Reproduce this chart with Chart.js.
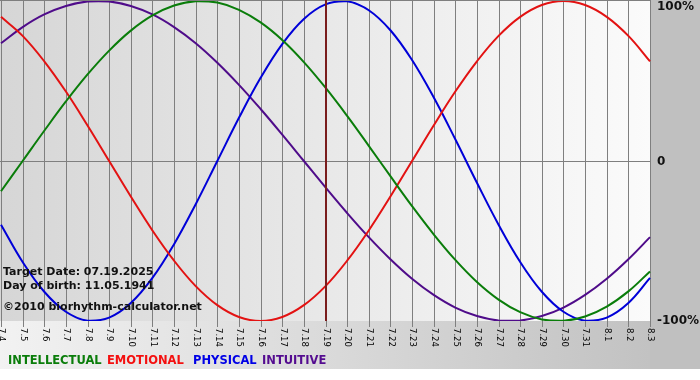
<!DOCTYPE html>
<html><head><meta charset="utf-8">
<script src="https://cdn.jsdelivr.net/npm/chart.js@4"></script>
<style>html,body{margin:0;padding:0;background:#fff}canvas{display:block}</style>
</head><body>
<canvas id="c" width="700" height="380"></canvas>
<script>
const dates = ['7.4','7.5','7.6','7.7','7.8','7.9','7.10','7.11','7.12','7.13','7.14','7.15','7.16','7.17','7.18','7.19','7.20','7.21','7.22','7.23','7.24','7.25','7.26','7.27','7.28','7.29','7.30','7.31','8.1','8.2','8.3'];
const intellectual = [-0.189,0,0.189,0.372,0.541,0.690,0.815,0.910,0.972,0.999,0.990,0.945,0.866,0.756,0.618,0.458,0.282,0.095,-0.095,-0.282,-0.458,-0.618,-0.756,-0.866,-0.945,-0.990,-0.999,-0.972,-0.910,-0.815,-0.690];
const emotional = [0.901,0.782,0.623,0.434,0.222,0,-0.222,-0.434,-0.623,-0.782,-0.901,-0.975,-1,-0.975,-0.901,-0.782,-0.623,-0.434,-0.222,0,0.222,0.434,0.623,0.782,0.901,0.975,1,0.975,0.901,0.782,0.623];
const physical = [-0.398,-0.631,-0.817,-0.942,-0.998,-0.979,-0.888,-0.731,-0.520,-0.270,0,0.270,0.520,0.731,0.888,0.979,0.998,0.942,0.817,0.631,0.398,0.136,-0.136,-0.398,-0.631,-0.817,-0.942,-0.998,-0.979,-0.888,-0.731];
const intuitive = [0.736,0.837,0.916,0.969,0.997,0.997,0.969,0.916,0.837,0.736,0.614,0.476,0.325,0.165,0,-0.165,-0.325,-0.476,-0.614,-0.736,-0.837,-0.916,-0.969,-0.997,-0.997,-0.969,-0.916,-0.837,-0.736,-0.614,-0.476];
const yTickLabels = [{v:1,t:'100%'},{v:0,t:'0'},{v:-1,t:'-100%'}];
const targetDate = '7.19';
const infoLines = ['Target Date: 07.19.2025','Day of birth: 11.05.1941','\u00a92010 biorhythm-calculator.net'];
const seriesNames = ['INTELLECTUAL','EMOTIONAL','PHYSICAL','INTUITIVE'];
const seriesColors = ['#0a7d0a','#e31212','#0000d8','#4f0c8a'];
const legendColors = ['#0a7d0a','#f41010','#0000e6','#540c90'];

const H = 380, W = 700, STRIP_BOTTOM = 369;
const LEGEND_X = [8,107,193,262];
const decor = {
  id:'decor',
  beforeDraw(chart){
    const {ctx, chartArea:a} = chart;
    const xs = chart.scales.x, ys = chart.scales.y;
    ctx.save();
    ctx.fillStyle='#fff'; ctx.fillRect(0,0,W,H);
    ctx.fillStyle='#c0c0c0'; ctx.fillRect(a.right,0,W-a.right,STRIP_BOTTOM);
    let g = ctx.createLinearGradient(0,0,a.right,0);
    g.addColorStop(0,'#f2f2f2'); g.addColorStop(1,'#c2c2c2');
    ctx.fillStyle=g; ctx.fillRect(0,a.bottom,a.right,STRIP_BOTTOM-a.bottom);
    g = ctx.createLinearGradient(0,0,a.right,0);
    g.addColorStop(0,'#d6d6d6'); g.addColorStop(1,'#fbfbfb');
    ctx.fillStyle=g; ctx.fillRect(0,0,a.right,a.bottom);
    ctx.strokeStyle='#7f7f7f'; ctx.lineWidth=1;
    dates.forEach((d,i)=>{
      const px = Math.round(xs.getPixelForValue(i))+0.5;
      ctx.beginPath(); ctx.moveTo(px,0); ctx.lineTo(px,a.bottom+6); ctx.stroke();
    });
    const py = Math.round(ys.getPixelForValue(0))+0.5;
    ctx.beginPath(); ctx.moveTo(0,py); ctx.lineTo(a.right,py); ctx.stroke();
    ctx.beginPath(); ctx.moveTo(0,0.5); ctx.lineTo(a.right,0.5); ctx.stroke();
    ctx.restore();
  },
  afterDatasetsDraw(chart){
    const {ctx, chartArea:a} = chart;
    const xs = chart.scales.x;
    const px = Math.round(xs.getPixelForValue(dates.indexOf(targetDate)));
    ctx.save();
    ctx.strokeStyle='#7a1d1d'; ctx.lineWidth=2;
    ctx.beginPath(); ctx.moveTo(px,0); ctx.lineTo(px,a.bottom); ctx.stroke();
    ctx.restore();
  },
  afterDraw(chart){
    const {ctx, chartArea:a} = chart;
    const xs = chart.scales.x, ys = chart.scales.y;
    ctx.save();
    ctx.fillStyle='#000';
    ctx.font='8.5px "DejaVu Sans"';
    ctx.textAlign='left'; ctx.textBaseline='middle';
    dates.forEach((d,i)=>{
      const px = xs.getPixelForValue(i);
      ctx.save(); ctx.translate(px+0.5,a.bottom+7); ctx.rotate(Math.PI/2);
      ctx.fillText(d,0,0); ctx.restore();
    });
    ctx.font='bold 12px "DejaVu Sans"';
    ctx.fillStyle='#111';
    yTickLabels.forEach(t=>{
      let py = ys.getPixelForValue(t.v);
      if (t.v===1) py = 7; if (t.v===0) py += 1;
      ctx.fillText(t.t,a.right+7,py);
    });
    ctx.font='bold 11px "DejaVu Sans"';
    ctx.fillStyle='#111';
    const infoY=[272.5,286,307];
    infoLines.forEach((s,i)=>ctx.fillText(s,3,infoY[i]));
    ctx.font='bold 11.5px "DejaVu Sans"';
    seriesNames.forEach((s,i)=>{
      ctx.fillStyle=legendColors[i];
      ctx.fillText(s,LEGEND_X[i],361.5);
    });
    ctx.restore();
  }
};

new Chart(document.getElementById('c'),{
  type:'line',
  data:{
    labels:dates,
    datasets:[
      {label:seriesNames[0],data:intellectual,borderColor:seriesColors[0]},
      {label:seriesNames[1],data:emotional,borderColor:seriesColors[1]},
      {label:seriesNames[2],data:physical,borderColor:seriesColors[2]},
      {label:seriesNames[3],data:intuitive,borderColor:seriesColors[3]}
    ]
  },
  options:{
    responsive:false, animation:false, devicePixelRatio:1,
    layout:{padding:{left:1,right:50,top:1,bottom:59}},
    elements:{line:{borderWidth:2,tension:0.4,fill:false},point:{radius:0,hoverRadius:0}},
    scales:{
      x:{display:false,offset:false},
      y:{display:false,min:-1,max:1}
    },
    plugins:{legend:{display:false},tooltip:{enabled:false}},
    events:[]
  },
  plugins:[decor]
});
</script>
</body></html>
